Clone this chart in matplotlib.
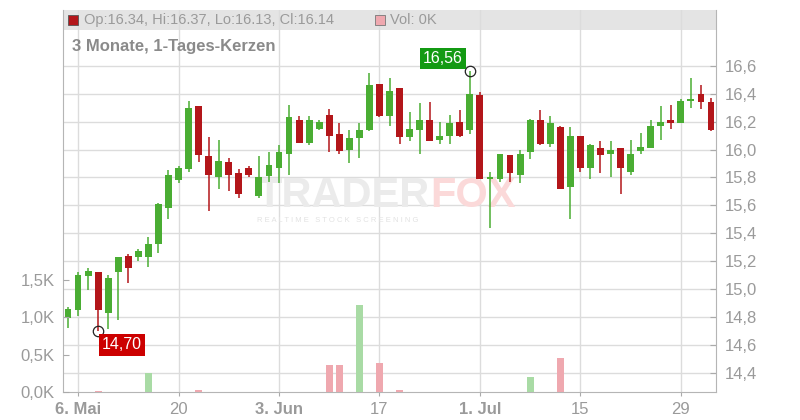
import numpy as np
import pandas as pd
import matplotlib.pyplot as plt
from matplotlib.patches import Rectangle

plt.rcParams['font.family'] = ['Liberation Sans', 'DejaVu Sans']

# daily candles, 3 May 2024 - 1 Aug 2024
dates = pd.bdate_range('2024-05-03', '2024-08-01')
opens = [14.79, 14.85, 15.09, 15.12, 14.83, 15.12, 15.24, 15.23, 15.23, 15.32,
         15.58, 15.78, 15.86, 16.31, 15.95, 15.80, 15.91, 15.83, 15.87, 15.67,
         15.81, 15.87, 15.97, 16.21, 16.05, 16.15, 16.25, 16.11, 16.00, 16.08,
         16.14, 16.47, 16.24, 16.44, 16.09, 16.14, 16.21, 16.07, 16.10, 16.20,
         16.14, 16.39, 15.79, 15.79, 15.96, 15.82, 15.98, 16.21, 16.04, 16.16,
         15.73, 16.10, 15.87, 16.01, 15.97, 16.01, 15.84, 15.99, 16.01, 16.17,
         16.21, 16.19, 16.35, 16.40, 16.34]
highs = [14.87, 15.12, 15.15, 15.12, 15.10, 15.23, 15.25, 15.29, 15.37, 15.62,
         15.85, 15.88, 16.35, 16.31, 16.09, 16.07, 15.94, 15.86, 15.88, 15.95,
         15.98, 16.03, 16.32, 16.24, 16.24, 16.21, 16.29, 16.19, 16.14, 16.19,
         16.55, 16.47, 16.51, 16.44, 16.27, 16.33, 16.34, 16.20, 16.25, 16.28,
         16.56, 16.41, 15.84, 15.97, 15.96, 16.00, 16.22, 16.28, 16.24, 16.17,
         16.16, 16.10, 16.04, 16.06, 16.06, 16.01, 16.07, 16.12, 16.21, 16.31,
         16.32, 16.36, 16.51, 16.46, 16.37]
lows = [14.72, 14.81, 14.99, 14.70, 14.71, 14.78, 15.04, 15.20, 15.16, 15.26,
        15.50, 15.76, 15.84, 15.91, 15.56, 15.72, 15.70, 15.65, 15.80, 15.65,
        15.77, 15.76, 15.82, 16.05, 16.03, 16.14, 15.98, 15.97, 15.90, 15.94,
        16.13, 16.23, 16.17, 16.04, 16.06, 15.97, 16.06, 16.04, 16.04, 16.09,
        16.11, 15.79, 15.44, 15.77, 15.77, 15.76, 15.93, 16.03, 16.02, 15.72,
        15.50, 15.84, 15.79, 15.83, 15.80, 15.68, 15.82, 15.97, 16.01, 16.07,
        16.15, 16.19, 16.30, 16.29, 16.13]
closes = [14.86, 15.10, 15.13, 14.85, 15.08, 15.23, 15.15, 15.27, 15.32, 15.61,
          15.82, 15.87, 16.30, 15.96, 15.82, 15.92, 15.82, 15.68, 15.82, 15.80,
          15.89, 15.98, 16.23, 16.05, 16.21, 16.20, 16.10, 15.99, 16.08, 16.14,
          16.46, 16.24, 16.42, 16.09, 16.15, 16.21, 16.06, 16.10, 16.19, 16.10,
          16.40, 15.79, 15.80, 15.97, 15.83, 15.97, 16.21, 16.04, 16.19, 15.72,
          16.10, 15.87, 16.03, 15.96, 16.00, 15.87, 15.97, 16.02, 16.17, 16.20,
          16.19, 16.35, 16.36, 16.34, 16.14]
# volume in thousands
volume = [0, 0, 0, 0.01, 0, 0, 0, 0, 0.25, 0,
          0, 0, 0, 0.03, 0, 0, 0, 0, 0, 0,
          0, 0, 0, 0, 0, 0, 0.36, 0.36, 0, 1.17,
          0, 0.39, 0, 0.03, 0, 0, 0, 0, 0, 0,
          0, 0, 0, 0, 0, 0, 0.20, 0, 0, 0.45,
          0, 0, 0, 0, 0, 0, 0, 0, 0, 0,
          0, 0, 0, 0, 0]

x_tick_dates = ['2024-05-06', '2024-05-20', '2024-06-03', '2024-06-17',
                '2024-07-01', '2024-07-15', '2024-07-29']
x_tick_labels = ['6. Mai', '20', '3. Jun', '17', '1. Jul', '15', '29']
price_ticks = [14.4, 14.6, 14.8, 15.0, 15.2, 15.4, 15.6, 15.8, 16.0, 16.2, 16.4, 16.6]
vol_ticks = [0, 0.5, 1.0, 1.5]

green = '#4aad33'
red = '#b3161a'
green_vol = '#a9dba5'
red_vol = '#efa8af'
grey_txt = '#9a9a9a'
grid_c = '#dcdcdc'

o = np.array(opens)
h = np.array(highs)
l = np.array(lows)
c = np.array(closes)
idx = np.arange(len(dates))
up = c >= o

fig = plt.figure(figsize=(8, 4.2), dpi=100)
ax = fig.add_axes([63 / 800, 28 / 420, 653 / 800, 382 / 420])
# volume axis (left) - made first so the price axis keeps the right side
axv = ax.twinx()

# grid + header band
ax.set_xlim(-0.5, len(dates) - 0.5)
ax.set_ylim(14.262, 17.0)
xt = [dates.get_loc(pd.Timestamp(d)) for d in x_tick_dates]
ax.set_xticks(xt)
ax.set_xticklabels(x_tick_labels)
for lab in ax.get_xticklabels():
    if '.' in lab.get_text():
        lab.set_fontweight('bold')
ax.set_yticks(price_ticks)
ax.set_yticklabels([f'{v:.1f}'.replace('.', ',') for v in price_ticks])
ax.yaxis.tick_right()
ax.grid(True, color=grid_c, linewidth=1)
ax.set_axisbelow(True)
ax.tick_params(axis='y', direction='in', length=4, color='#aaaaaa',
               labelcolor=grey_txt, labelsize=12, pad=6)
ax.tick_params(axis='x', direction='out', length=3, color='#aaaaaa',
               labelcolor=grey_txt, labelsize=12, pad=4)
for s in ['left', 'right', 'bottom']:
    ax.spines[s].set_color('#b5b5b5')
ax.spines['top'].set_visible(False)

ax.add_patch(Rectangle((0, 1 - 20 / 382), 1, 20 / 382, transform=ax.transAxes,
                       facecolor='#e4e4e4', edgecolor='none', zorder=0.5))

# watermark
ax.text(0.562, 0.484, 'TRADER', transform=ax.transAxes, ha='right', va='baseline',
        fontsize=30, fontweight='bold', color='#ebebeb', zorder=0.6)
ax.text(0.562, 0.484, 'FOX', transform=ax.transAxes, ha='left', va='baseline',
        fontsize=30, fontweight='bold', color='#fbd9d9', zorder=0.6)
ax.text(0.42, 0.448, 'R E A L T I M E   S T O C K   S C R E E N I N G', transform=ax.transAxes,
        ha='center', va='center', fontsize=5.5, color='#e2e2e2', zorder=0.6)

# candles
col = np.where(up, green, red)
ax.vlines(idx, l, h, colors=col, linewidth=1.1, zorder=2)
body_h = np.abs(c - o)
body_h = np.maximum(body_h, 0.012)
ax.bar(idx, body_h, bottom=np.minimum(o, c), width=0.68, color=col, zorder=3)

# min / max markers
i_lo = int(np.argmin(l))
i_hi = int(np.argmax(h))
ax.plot([i_lo, i_hi], [l[i_lo], h[i_hi]], 'o', mfc='none', mec='#222222', ms=7.5, mew=0.9, zorder=4)
ax.annotate(f'{l[i_lo]:.2f}'.replace('.', ','), (i_lo, l[i_lo]), xytext=(24, -14),
            textcoords='offset pixels', ha='center', va='center', color='white', fontsize=11.5,
            bbox=dict(boxstyle='square,pad=0.2', fc='#cc0000', ec='none'), zorder=5)
ax.annotate(f'{h[i_hi]:.2f}'.replace('.', ','), (i_hi, h[i_hi]), xytext=(-27, 13),
            textcoords='offset pixels', ha='center', va='center', color='white', fontsize=11.5,
            bbox=dict(boxstyle='square,pad=0.2', fc='#139a13', ec='none'), zorder=5)

# header texts
ax.add_patch(Rectangle((5 / 653, 1 - 15 / 382), 10 / 653, 10 / 382, transform=ax.transAxes,
                       facecolor=red, edgecolor='#555555', linewidth=0.6, zorder=5))
ax.text(21 / 653, 1 - 10 / 382, f'Op:{o[-1]:.2f}, Hi:{h[-1]:.2f}, Lo:{l[-1]:.2f}, Cl:{c[-1]:.2f}',
        transform=ax.transAxes, ha='left', va='center', fontsize=10.5, color=grey_txt, zorder=5)
ax.add_patch(Rectangle((312 / 653, 1 - 15 / 382), 10 / 653, 10 / 382, transform=ax.transAxes,
                       facecolor=red_vol, edgecolor='#777777', linewidth=0.6, zorder=5))
ax.text(327 / 653, 1 - 10 / 382, f'Vol: {volume[-1]:.0f}K',
        transform=ax.transAxes, ha='left', va='center', fontsize=10.5, color=grey_txt, zorder=5)
ax.text(9 / 653, 1 - 37 / 382, '3 Monate, 1-Tages-Kerzen', transform=ax.transAxes,
        ha='left', va='center', fontsize=12, fontweight='bold', color='#8a8a8a', zorder=5)

# volume bars
axv.set_ylim(0, 5.116)
vcol = np.where(up, green_vol, red_vol)
axv.bar(idx, volume, width=0.68, color=vcol, zorder=1)
axv.yaxis.tick_left()
axv.set_yticks(vol_ticks)
axv.set_yticklabels([f'{v:.1f}K'.replace('.', ',') for v in vol_ticks])
axv.tick_params(axis='y', direction='in', length=4, color='#aaaaaa',
                labelcolor=grey_txt, labelsize=12, pad=6)
for s in ['top', 'right', 'left', 'bottom']:
    axv.spines[s].set_visible(False)

fig.savefig('out.png', dpi=100)
